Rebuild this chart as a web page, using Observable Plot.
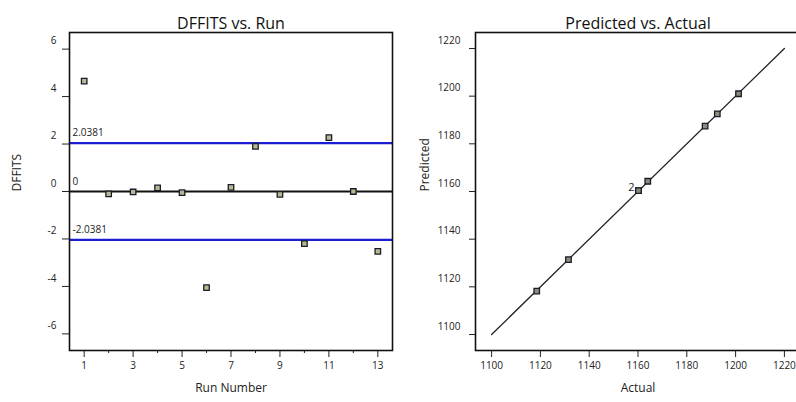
<!DOCTYPE html>
<html>
<head>
<meta charset="utf-8">
<script src="https://cdn.jsdelivr.net/npm/d3@7"></script>
<script src="https://cdn.jsdelivr.net/npm/@observablehq/plot@0.6"></script>
<style>
  html, body { margin: 0; padding: 0; background: #fff; overflow: hidden; }
  #wrap { position: relative; width: 796px; height: 402px; overflow: hidden; }
  #wrap > svg { position: absolute; top: 0; }
</style>
</head>
<body>
<div id="wrap"></div>
<script>
// Diagnostics for a 13-run experiment
const runs = [1, 2, 3, 4, 5, 6, 7, 8, 9, 10, 11, 12, 13];
const dffits = [4.65, -0.1, -0.02, 0.15, -0.05, -4.05, 0.17, 1.9, -0.12, -2.2, 2.27, 0.0, -2.52];
const limit = 2.0381;
const runMajorTicks = [1, 3, 5, 7, 9, 11, 13];
const runMinorTicks = [2, 4, 6, 8, 10, 12];
const dffitsTicks = [-6, -4, -2, 0, 2, 4, 6];

const actual    = [1118.5, 1131.5, 1160.2, 1160.2, 1164.0, 1187.5, 1192.5, 1201.2];
const predicted = [1118.2, 1131.4, 1160.4, 1160.4, 1164.3, 1187.4, 1192.6, 1201.0];
const fitLine = [1100, 1220];
const respTicks = [1100, 1120, 1140, 1160, 1180, 1200, 1220];

const FONT = "'Open Sans', 'DejaVu Sans', sans-serif";
const BLUE = "#1c1cd2";
const ptFill = "#b9b98f";
const ptStroke = "#1b1b2b";

const wrap = document.getElementById("wrap");

// ---- DFFITS vs. Run ----
const dfRows = runs.map((r, i) => ({run: r, v: dffits[i]}));
const left = Plot.plot({
  width: 400, height: 402,
  marginLeft: 69, marginRight: 8, marginTop: 32, marginBottom: 52,
  style: {fontFamily: FONT, fontSize: "10px", color: "#222", background: "transparent"},
  x: {domain: [0.4, 13.6]},
  y: {domain: [-6.7, 6.7]},
  marks: [
    Plot.ruleY([limit, -limit], {stroke: BLUE, strokeWidth: 2.2}),
    Plot.ruleY([0], {stroke: "#111", strokeWidth: 2}),
    Plot.text([limit, 0, -limit], {y: d => d, text: d => d === 0 ? "0" : (d < 0 ? "-" : "") + Math.abs(d).toFixed(4),
      frameAnchor: "left", textAnchor: "start", dx: 3, dy: -10, fontSize: 10, fill: "#222"}),
    Plot.axisX({ticks: runMajorTicks, tickSize: 7, tickPadding: 4, tickFormat: d => String(d), label: null, fontSize: 10}),
    Plot.axisX({ticks: runMinorTicks, tickSize: 3, tickFormat: () => "", label: null}),
    Plot.axisY({ticks: dffitsTicks, tickSize: 7, tickFormat: () => "", label: null}),
    Plot.text(dffitsTicks, {y: d => d, text: d => String(d), frameAnchor: "left", textAnchor: "end", dx: -13, dy: -8, fontSize: 10}),
    Plot.dot(dfRows, {x: "run", y: "v", symbol: "square", r: 3.1, fill: ptFill, stroke: ptStroke, strokeWidth: 1.3}),
    Plot.frame({stroke: "#111", strokeWidth: 1.6}),
    Plot.text(["DFFITS vs. Run"], {frameAnchor: "top", dy: -15, fontSize: 16, fill: "#111"}),
    Plot.text(["Run Number"], {frameAnchor: "bottom", dy: 41, fontSize: 12, fill: "#222"}),
    Plot.text(["DFFITS"], {frameAnchor: "left", dx: -52, rotate: -90, fontSize: 12, fill: "#222"})
  ]
});
left.style.left = "0px";
wrap.appendChild(left);

// ---- Predicted vs. Actual ----
const pvRows = actual.map((a, i) => ({a, p: predicted[i]}));
// runs sharing the same position are drawn once and tagged with their count
const groups = d3.rollups(pvRows, g => g.length, d => d.a + "|" + d.p)
  .filter(([, n]) => n > 1)
  .map(([k, n]) => { const [a, p] = k.split("|").map(Number); return {a, p, n}; });

const right = Plot.plot({
  width: 410, height: 402,
  marginLeft: 75, marginRight: 10, marginTop: 32, marginBottom: 52,
  style: {fontFamily: FONT, fontSize: "10px", color: "#222", background: "transparent"},
  x: {domain: [1093.4, 1226.6]},
  y: {domain: [1093.3, 1226.7]},
  marks: [
    Plot.line(fitLine, {x: d => d, y: d => d, stroke: "#222", strokeWidth: 1.3}),
    Plot.axisX({ticks: respTicks, tickSize: 7, tickPadding: 4, tickFormat: d => String(d), label: null, fontSize: 10}),
    Plot.axisY({ticks: respTicks, tickSize: 6, tickFormat: () => "", label: null}),
    Plot.text(respTicks, {y: d => d, text: d => String(d), frameAnchor: "left", textAnchor: "end", dx: -15, dy: -8, fontSize: 10}),
    Plot.dot(pvRows, {x: "a", y: "p", symbol: "square", r: 3.1, fill: "#8c8c7c", stroke: ptStroke, strokeWidth: 1.3}),
    Plot.text(groups, {x: "a", y: "p", text: d => String(d.n), dx: -7, dy: -3, fontSize: 11, fill: "#222"}),
    Plot.frame({stroke: "#111", strokeWidth: 1.6}),
    Plot.text(["Predicted vs. Actual"], {frameAnchor: "top", dy: -15, fontSize: 16, fill: "#111"}),
    Plot.text(["Actual"], {frameAnchor: "bottom", dy: 41, fontSize: 12, fill: "#222"}),
    Plot.text(["Predicted"], {frameAnchor: "left", dx: -50, rotate: -90, fontSize: 12, fill: "#222"})
  ]
});
right.style.left = "400px";
wrap.appendChild(right);
</script>
</body>
</html>
